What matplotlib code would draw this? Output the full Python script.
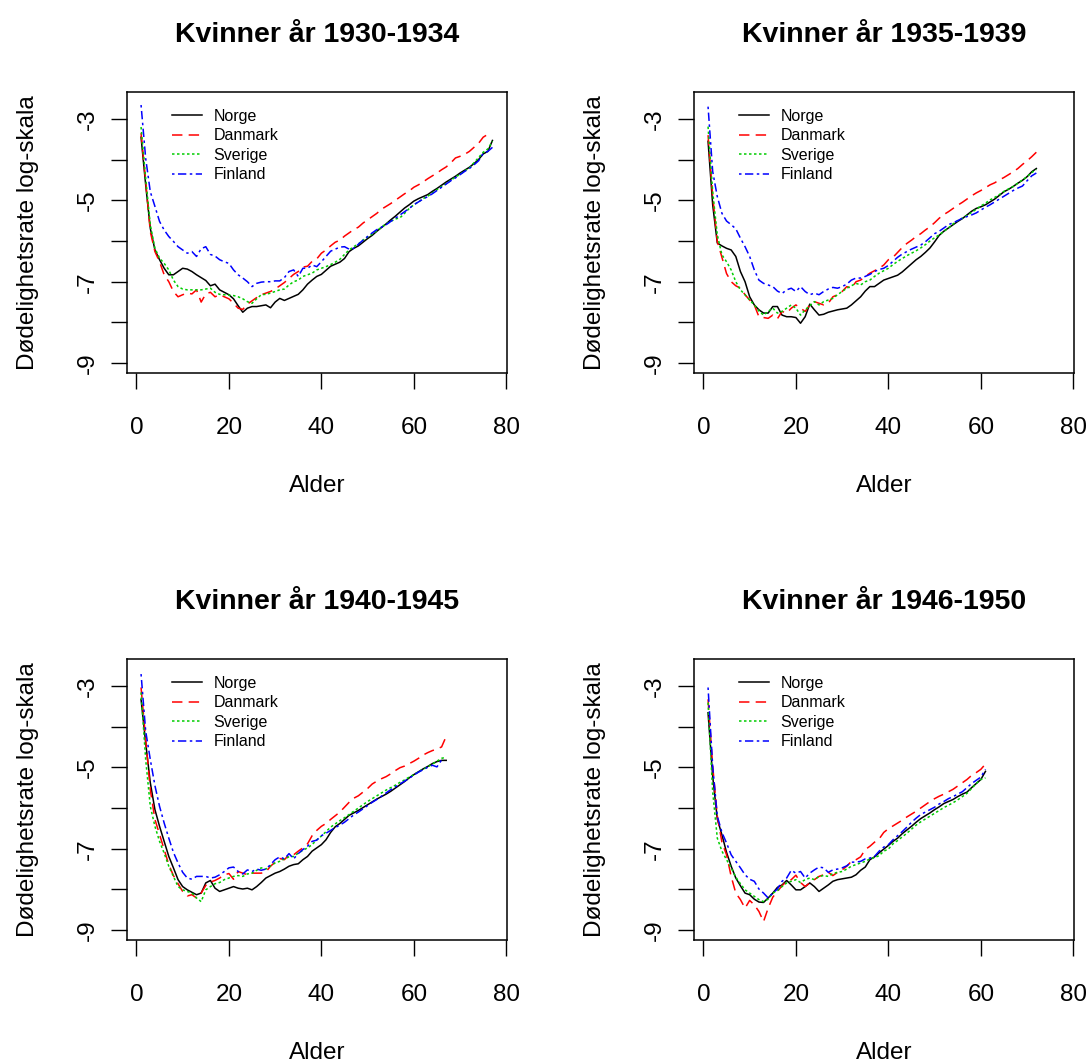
import numpy as np
import matplotlib
matplotlib.use("Agg")
import matplotlib.pyplot as plt

plt.rcParams['font.family'] = ['Liberation Sans', 'DejaVu Sans']
plt.rcParams['lines.scale_dashes'] = False

# log mortality rates for women, ages start at 1
norge_1930 = [-3.45, -4.62, -5.69, -6.22, -6.46, -6.67, -6.83, -6.83, -6.75, -6.67,
              -6.69, -6.75, -6.83, -6.90, -6.97, -7.10, -7.06, -7.20, -7.26, -7.32,
              -7.42, -7.59, -7.75, -7.65, -7.61, -7.61, -7.59, -7.57, -7.64, -7.50,
              -7.41, -7.46, -7.41, -7.36, -7.31, -7.20, -7.06, -6.96, -6.87, -6.82,
              -6.72, -6.62, -6.57, -6.52, -6.43, -6.26, -6.18, -6.12, -6.03, -5.94,
              -5.86, -5.76, -5.67, -5.58, -5.48, -5.39, -5.29, -5.19, -5.11, -5.02,
              -4.96, -4.91, -4.86, -4.78, -4.71, -4.63, -4.55, -4.48, -4.41, -4.33,
              -4.26, -4.19, -4.10, -4.00, -3.86, -3.80, -3.53]
danmark_1930 = [-3.35, -4.54, -5.77, -6.26, -6.51, -6.83, -7.00, -7.24, -7.37, -7.32,
                -7.28, -7.30, -7.20, -7.50, -7.30, -7.26, -7.37, -7.32, -7.37, -7.42,
                -7.53, -7.65, -7.68, -7.55, -7.47, -7.39, -7.32, -7.28, -7.24, -7.18,
                -7.10, -7.02, -6.92, -6.82, -6.75, -6.64, -6.62, -6.50, -6.44, -6.30,
                -6.22, -6.12, -6.03, -5.98, -5.88, -5.80, -5.72, -5.66, -5.56, -5.48,
                -5.40, -5.32, -5.22, -5.15, -5.08, -5.00, -4.92, -4.84, -4.77, -4.68,
                -4.62, -4.55, -4.47, -4.40, -4.33, -4.25, -4.18, -4.08, -3.96, -3.92,
                -3.87, -3.80, -3.70, -3.60, -3.45, -3.38]
sverige_1930 = [-3.20, -4.46, -5.60, -6.18, -6.42, -6.55, -6.71, -6.96, -7.12, -7.18,
                -7.20, -7.20, -7.20, -7.20, -7.18, -7.16, -7.26, -7.31, -7.32, -7.33,
                -7.34, -7.37, -7.42, -7.49, -7.53, -7.42, -7.32, -7.31, -7.28, -7.24,
                -7.20, -7.18, -7.08, -7.00, -6.96, -6.87, -6.83, -6.79, -6.71, -6.67,
                -6.63, -6.58, -6.52, -6.45, -6.33, -6.22, -6.14, -6.07, -5.98, -5.90,
                -5.83, -5.75, -5.66, -5.58, -5.52, -5.46, -5.43, -5.32, -5.20, -5.11,
                -5.04, -4.96, -4.90, -4.82, -4.74, -4.66, -4.59, -4.51, -4.43, -4.36,
                -4.28, -4.20, -4.08, -3.95, -3.82, -3.74, -3.55]
finland_1930 = [-2.66, -3.97, -4.79, -5.15, -5.52, -5.73, -5.89, -6.01, -6.14, -6.22,
                -6.30, -6.26, -6.38, -6.19, -6.14, -6.33, -6.37, -6.46, -6.51, -6.55,
                -6.71, -6.83, -6.91, -7.00, -7.12, -7.04, -7.01, -7.00, -7.00, -6.98,
                -6.98, -6.90, -6.75, -6.71, -6.87, -6.67, -6.67, -6.59, -6.63, -6.51,
                -6.38, -6.25, -6.20, -6.15, -6.14, -6.20, -6.18, -6.08, -5.98, -5.89,
                -5.80, -5.72, -5.66, -5.60, -5.52, -5.44, -5.36, -5.28, -5.20, -5.11,
                -5.04, -4.97, -4.91, -4.84, -4.76, -4.68, -4.60, -4.52, -4.45, -4.37,
                -4.29, -4.22, -4.13, -4.03, -3.85, -3.80, -3.70]

norge_1935 = [-3.55, -5.11, -6.05, -6.12, -6.18, -6.22, -6.38, -6.75, -7.00, -7.37,
              -7.57, -7.69, -7.77, -7.77, -7.61, -7.61, -7.82, -7.86, -7.86, -7.88,
              -8.02, -7.86, -7.55, -7.69, -7.82, -7.80, -7.75, -7.72, -7.69, -7.67,
              -7.65, -7.57, -7.47, -7.37, -7.23, -7.12, -7.12, -7.04, -6.96, -6.92,
              -6.88, -6.84, -6.76, -6.66, -6.56, -6.46, -6.38, -6.28, -6.17, -6.02,
              -5.86, -5.76, -5.68, -5.60, -5.52, -5.45, -5.36, -5.27, -5.20, -5.16,
              -5.11, -5.04, -4.97, -4.88, -4.79, -4.73, -4.66, -4.58, -4.51, -4.42,
              -4.30, -4.22]
danmark_1935 = [-3.40, -4.90, -6.01, -6.40, -6.80, -7.00, -7.10, -7.16, -7.32, -7.45,
                -7.57, -7.86, -7.88, -7.90, -7.82, -7.91, -7.73, -7.77, -7.65, -7.57,
                -7.65, -7.73, -7.57, -7.49, -7.53, -7.57, -7.53, -7.37, -7.32, -7.24,
                -7.12, -7.16, -7.00, -6.96, -6.87, -6.79, -6.73, -6.67, -6.59, -6.46,
                -6.40, -6.28, -6.16, -6.06, -5.98, -5.89, -5.82, -5.73, -5.65, -5.55,
                -5.44, -5.35, -5.28, -5.20, -5.12, -5.05, -4.97, -4.89, -4.82, -4.76,
                -4.69, -4.62, -4.57, -4.50, -4.44, -4.37, -4.30, -4.22, -4.12, -4.03,
                -3.93, -3.82]
sverige_1935 = [-3.19, -4.79, -5.85, -6.34, -6.51, -6.71, -7.00, -7.20, -7.32, -7.45,
                -7.57, -7.72, -7.82, -7.73, -7.65, -7.77, -7.73, -7.65, -7.57, -7.65,
                -7.82, -7.69, -7.59, -7.49, -7.57, -7.49, -7.45, -7.41, -7.32, -7.24,
                -7.16, -7.10, -7.04, -7.08, -7.00, -6.96, -6.87, -6.79, -6.73, -6.67,
                -6.58, -6.50, -6.43, -6.36, -6.30, -6.24, -6.17, -6.09, -6.00, -5.92,
                -5.85, -5.76, -5.68, -5.58, -5.50, -5.44, -5.37, -5.30, -5.22, -5.14,
                -5.07, -4.99, -4.93, -4.86, -4.78, -4.72, -4.66, -4.58, -4.50, -4.42,
                -4.32, -4.24]
finland_1935 = [-2.70, -4.29, -4.91, -5.32, -5.51, -5.60, -5.70, -5.93, -6.14, -6.38,
                -6.71, -6.96, -7.04, -7.08, -7.12, -7.23, -7.29, -7.20, -7.16, -7.24,
                -7.12, -7.24, -7.32, -7.28, -7.32, -7.24, -7.18, -7.14, -7.16, -7.12,
                -7.06, -6.96, -6.91, -6.91, -6.87, -6.82, -6.75, -6.70, -6.67, -6.60,
                -6.50, -6.40, -6.32, -6.26, -6.20, -6.15, -6.10, -6.02, -5.92, -5.82,
                -5.76, -5.68, -5.60, -5.55, -5.50, -5.44, -5.40, -5.36, -5.31, -5.24,
                -5.17, -5.11, -5.04, -4.97, -4.90, -4.83, -4.76, -4.70, -4.65, -4.52,
                -4.40, -4.33]

norge_1940 = [-3.33, -4.40, -5.38, -6.04, -6.45, -6.82, -7.19, -7.47, -7.76, -7.93,
              -8.01, -8.07, -8.13, -8.09, -7.84, -7.78, -7.97, -8.05, -8.01, -7.97,
              -7.93, -7.97, -7.99, -7.97, -8.01, -7.93, -7.83, -7.72, -7.66, -7.60,
              -7.56, -7.50, -7.43, -7.39, -7.37, -7.27, -7.19, -7.06, -6.98, -6.90,
              -6.78, -6.60, -6.46, -6.38, -6.28, -6.18, -6.12, -6.06, -5.99, -5.92,
              -5.85, -5.78, -5.72, -5.66, -5.59, -5.51, -5.43, -5.35, -5.26, -5.18,
              -5.11, -5.04, -4.98, -4.91, -4.86, -4.83, -4.83]
danmark_1940 = [-3.04, -4.31, -5.55, -6.28, -6.65, -7.02, -7.39, -7.66, -7.86, -8.05,
                -8.16, -8.13, -8.21, -8.09, -7.90, -7.82, -7.78, -7.72, -7.64, -7.61,
                -7.75, -7.56, -7.60, -7.64, -7.60, -7.60, -7.60, -7.57, -7.43, -7.33,
                -7.24, -7.27, -7.15, -7.15, -7.06, -6.98, -6.88, -6.68, -6.55, -6.45,
                -6.38, -6.28, -6.19, -6.10, -5.98, -5.86, -5.76, -5.70, -5.61, -5.52,
                -5.41, -5.34, -5.28, -5.23, -5.16, -5.08, -5.01, -4.97, -4.91, -4.85,
                -4.78, -4.70, -4.64, -4.59, -4.55, -4.50, -4.24]
sverige_1940 = [-3.16, -4.81, -5.96, -6.45, -6.82, -7.11, -7.43, -7.68, -7.93, -8.01,
                -8.05, -8.09, -8.21, -8.30, -8.01, -7.93, -7.86, -7.83, -7.76, -7.72,
                -7.68, -7.66, -7.68, -7.62, -7.60, -7.53, -7.47, -7.50, -7.42, -7.35,
                -7.31, -7.25, -7.20, -7.19, -7.11, -7.04, -6.98, -6.90, -6.78, -6.69,
                -6.58, -6.47, -6.39, -6.31, -6.24, -6.16, -6.08, -6.00, -5.92, -5.84,
                -5.77, -5.70, -5.63, -5.56, -5.50, -5.44, -5.37, -5.31, -5.24, -5.18,
                -5.11, -5.05, -4.99, -4.92, -4.85, -4.78, -4.75]
finland_1940 = [-2.71, -4.11, -4.81, -5.45, -5.96, -6.37, -6.74, -7.09, -7.35, -7.58,
                -7.72, -7.75, -7.68, -7.68, -7.68, -7.72, -7.70, -7.64, -7.56, -7.47,
                -7.45, -7.56, -7.62, -7.52, -7.56, -7.50, -7.53, -7.50, -7.39, -7.27,
                -7.20, -7.25, -7.12, -7.25, -7.12, -7.02, -6.94, -6.82, -6.79, -6.68,
                -6.62, -6.55, -6.48, -6.42, -6.35, -6.26, -6.17, -6.10, -6.02, -5.94,
                -5.86, -5.79, -5.71, -5.63, -5.55, -5.48, -5.41, -5.34, -5.27, -5.19,
                -5.12, -5.06, -5.00, -4.95, -4.99, -4.82]

norge_1946 = [-3.66, -5.22, -6.27, -6.66, -7.09, -7.43, -7.72, -7.91, -8.09, -8.13,
              -8.24, -8.31, -8.32, -8.21, -8.09, -7.95, -7.89, -7.78, -7.89, -8.01,
              -8.01, -7.93, -7.84, -7.93, -8.05, -7.97, -7.89, -7.80, -7.76, -7.74,
              -7.72, -7.70, -7.64, -7.53, -7.45, -7.27, -7.20, -7.10, -7.01, -6.92,
              -6.82, -6.74, -6.63, -6.54, -6.45, -6.35, -6.26, -6.19, -6.12, -6.04,
              -5.97, -5.89, -5.84, -5.79, -5.72, -5.66, -5.61, -5.50, -5.40, -5.30,
              -5.10]
danmark_1946 = [-3.33, -4.97, -6.20, -6.84, -7.15, -7.68, -8.09, -8.25, -8.46, -8.27,
                -8.38, -8.54, -8.79, -8.46, -8.19, -8.05, -7.91, -7.80, -7.76, -7.65,
                -7.83, -7.93, -7.84, -7.76, -7.68, -7.64, -7.58, -7.66, -7.58, -7.52,
                -7.43, -7.31, -7.27, -7.20, -7.02, -6.94, -6.84, -6.76, -6.60, -6.51,
                -6.44, -6.37, -6.30, -6.22, -6.15, -6.08, -6.00, -5.92, -5.84, -5.77,
                -5.71, -5.66, -5.60, -5.54, -5.46, -5.38, -5.30, -5.20, -5.13, -5.05,
                -4.92]
sverige_1946 = [-3.41, -5.60, -6.74, -7.06, -7.27, -7.47, -7.70, -7.86, -8.01, -8.09,
                -8.17, -8.25, -8.30, -8.24, -8.09, -8.03, -7.93, -7.84, -7.80, -7.76,
                -7.83, -7.76, -7.72, -7.76, -7.68, -7.66, -7.68, -7.61, -7.58, -7.56,
                -7.50, -7.43, -7.39, -7.35, -7.31, -7.25, -7.22, -7.17, -7.06, -7.01,
                -6.88, -6.80, -6.71, -6.62, -6.52, -6.42, -6.34, -6.27, -6.20, -6.13,
                -6.06, -5.99, -5.93, -5.87, -5.80, -5.72, -5.64, -5.52, -5.40, -5.30,
                -5.26]
finland_1946 = [-3.04, -4.97, -6.20, -6.60, -6.86, -7.15, -7.31, -7.47, -7.64, -7.75,
                -7.80, -7.99, -8.09, -8.21, -8.09, -7.99, -7.80, -7.72, -7.53, -7.60,
                -7.56, -7.72, -7.60, -7.52, -7.45, -7.47, -7.58, -7.52, -7.50, -7.47,
                -7.42, -7.33, -7.33, -7.31, -7.25, -7.23, -7.19, -7.06, -6.96, -6.90,
                -6.78, -6.68, -6.58, -6.47, -6.35, -6.25, -6.16, -6.10, -6.04, -5.98,
                -5.90, -5.84, -5.77, -5.72, -5.66, -5.60, -5.50, -5.40, -5.32, -5.24,
                -5.05]

titles = ["Kvinner år 1930-1934", "Kvinner år 1935-1939",
          "Kvinner år 1940-1945", "Kvinner år 1946-1950"]
countries = ["Norge", "Danmark", "Sverige", "Finland"]
colors = ["black", "#FF0000", "#00CD00", "#0000FF"]
styles = ["-", (0, (7.5, 4.5)), (0, (1.8, 1.8)), (0, (1.8, 2.5, 6.0, 2.5))]

panels = [
    [norge_1930, danmark_1930, sverige_1930, finland_1930],
    [norge_1935, danmark_1935, sverige_1935, finland_1935],
    [norge_1940, danmark_1940, sverige_1940, finland_1940],
    [norge_1946, danmark_1946, sverige_1946, finland_1946],
]

W, H = 1087, 1061
fig = plt.figure(figsize=(W / 100, H / 100), dpi=100)

# axes boxes in pixels: left, top, right, bottom
boxes = [(127, 92, 506.5, 372.5), (694, 92, 1073.5, 372.5),
         (127, 659, 506.5, 939.5), (694, 659, 1073.5, 939.5)]

for i, (l, t, r, b) in enumerate(boxes):
    ax = fig.add_axes([l / W, 1 - b / H, (r - l) / W, (b - t) / H])
    for series, name, col, ls in zip(panels[i], countries, colors, styles):
        ages = np.arange(1, len(series) + 1)
        ax.plot(ages, series, color=col, linestyle=ls, lw=1.1, label=name)

    ax.set_xlim(-2.04, 80.04)
    ax.set_ylim(-9.23, -2.34)
    ax.set_xticks([0, 20, 40, 60, 80])
    ax.set_yticks([-9, -8, -7, -6, -5, -4, -3])
    ax.set_yticklabels(["-9", "", "-7", "", "-5", "", "-3"], rotation=90, va="center")
    ax.tick_params(axis="both", length=11.5, width=1.0, labelsize=17.5, direction="out")
    ax.tick_params(axis="x", pad=20.5)
    ax.tick_params(axis="y", pad=9)
    for sp in ax.spines.values():
        sp.set_linewidth(1.1)

    ax.set_title(titles[i], fontsize=20.5, fontweight="bold", pad=36)
    ax.set_xlabel("Alder", fontsize=17.5, labelpad=26)
    ax.set_ylabel("Dødelighetsrate log-skala", fontsize=17.5, labelpad=27)

    ax.legend(loc="upper left", bbox_to_anchor=(0.118, 0.94), frameon=False,
              fontsize=11.5, handlelength=1.88, handletextpad=0.72,
              labelspacing=0.28, borderpad=0, borderaxespad=0)

fig.savefig("out.png", dpi=100)
